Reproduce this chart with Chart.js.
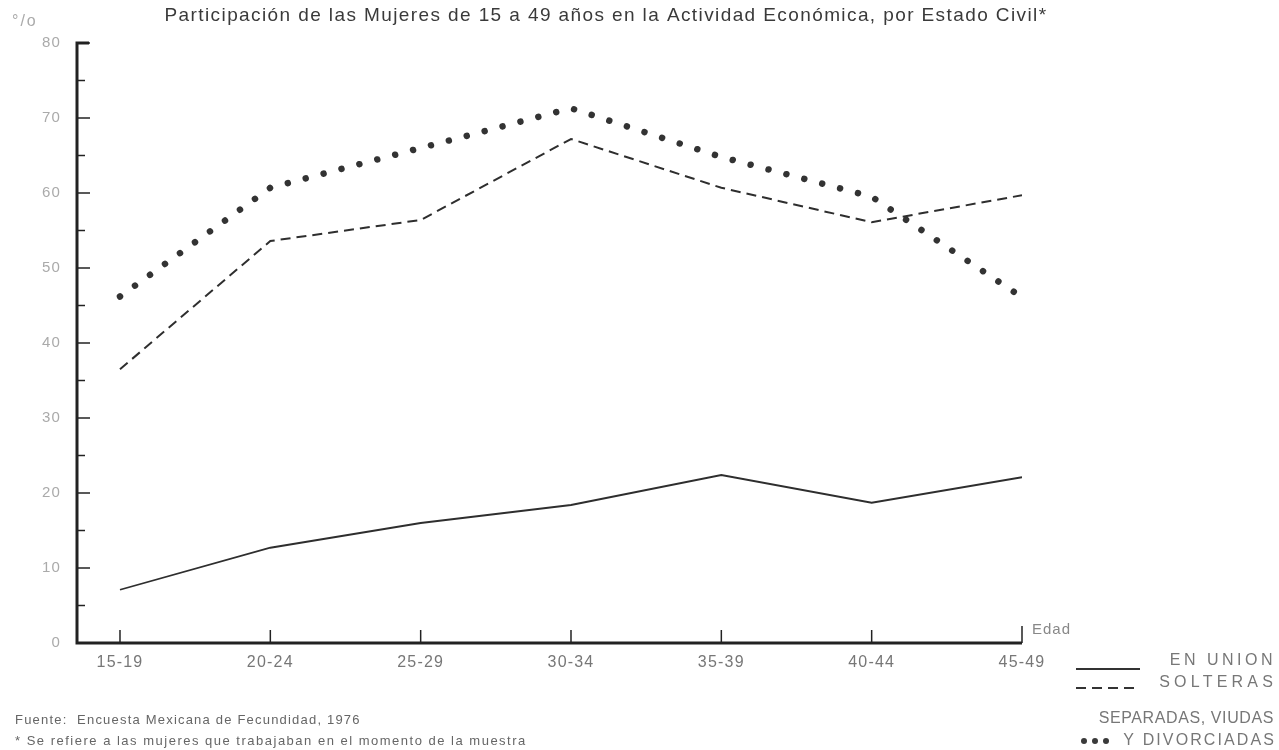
<!DOCTYPE html>
<html><head><meta charset="utf-8">
<script src="https://cdn.jsdelivr.net/npm/chart.js@4.4.1/dist/chart.umd.min.js"></script>
<style>html,body{margin:0;padding:0;background:#fff;} #wrap{position:relative;width:1279px;height:750px;}</style>
</head><body><div id="wrap"><canvas id="c" width="1279" height="750"></canvas></div>
<script>
const categories = ['15-19','20-24','25-29','30-34','35-39','40-44','45-49'];
const enUnion   = [7.1, 12.7, 16.0, 18.4, 22.4, 18.7, 22.1];
const solteras  = [36.5, 53.6, 56.4, 67.2, 60.7, 56.1, 59.7];
const separadas = [46.2, 60.7, 66.0, 71.3, 64.8, 59.5, 46.1];
const yTicks = [0, 10, 20, 30, 40, 50, 60, 70, 80];
const titleText = 'Participación de las Mujeres de 15 a 49 años en la Actividad Económica, por Estado Civil*';
const unitText = '°/o';
const axisText = 'Edad';
const legendLabels = ['EN UNION', 'SOLTERAS', 'SEPARADAS, VIUDAS', 'Y DIVORCIADAS'];
const notes = ['Fuente:  Encuesta Mexicana de Fecundidad, 1976', '* Se refiere a las mujeres que trabajaban en el momento de la muestra'];

const FONT = '"Liberation Sans", Arial, sans-serif';
const toXY = arr => arr.map((v, i) => ({x: i, y: v}));

const decor = {
  id: 'decor',
  beforeDraw(chart) {
    chart.ctx.letterSpacing = '1.2px';
  },
  afterDraw(chart) {
    const ctx = chart.ctx, xs = chart.scales.x, ys = chart.scales.y;
    const L = xs.left, R = xs.right, T = ys.top, B = ys.bottom;
    ctx.save();
    // axes
    ctx.strokeStyle = '#222';
    ctx.lineWidth = 3;
    ctx.beginPath();
    ctx.moveTo(L + 12, T); ctx.lineTo(L, T); ctx.lineTo(L, B); ctx.lineTo(R, B);
    ctx.stroke();
    // y ticks (inside)
    ctx.lineWidth = 1.5;
    for (let v = 0; v <= 80; v += 5) {
      const y = ys.getPixelForValue(v);
      const len = (v % 10 === 0) ? 13 : 8;
      ctx.beginPath(); ctx.moveTo(L, y); ctx.lineTo(L + len, y); ctx.stroke();
    }
    // x ticks (upward)
    categories.forEach((c, i) => {
      const x = xs.getPixelForValue(i);
      const len = (i === categories.length - 1) ? 17 : 13;
      ctx.beginPath(); ctx.moveTo(x, B); ctx.lineTo(x, B - len); ctx.stroke();
    });
    // title
    ctx.fillStyle = '#3a3a3a';
    ctx.font = '19px ' + FONT;
    ctx.letterSpacing = '1.4px';
    ctx.textAlign = 'center'; ctx.textBaseline = 'middle';
    ctx.fillText(titleText, 606, 16);
    // unit
    ctx.fillStyle = '#aaa';
    ctx.font = '16px ' + FONT;
    ctx.letterSpacing = '2px';
    ctx.textAlign = 'left';
    ctx.fillText(unitText, 12, 22);
    // Edad
    ctx.fillStyle = '#888';
    ctx.font = '15px ' + FONT;
    ctx.letterSpacing = '1px';
    ctx.fillText(axisText, R + 10, B - 13);
    // legend samples
    const lx0 = 1076, lx1 = 1140;
    ctx.strokeStyle = '#333';
    ctx.lineWidth = 2;
    ctx.beginPath(); ctx.moveTo(lx0, 669); ctx.lineTo(lx1, 669); ctx.stroke();
    ctx.setLineDash([10, 6]);
    ctx.beginPath(); ctx.moveTo(lx0, 688); ctx.lineTo(lx1, 688); ctx.stroke();
    ctx.setLineDash([]);
    ctx.fillStyle = '#3a3a3a';
    [1084, 1095, 1106].forEach(x => { ctx.beginPath(); ctx.arc(x, 741, 3, 0, Math.PI * 2); ctx.fill(); });
    // legend text
    ctx.fillStyle = '#777';
    ctx.font = '16px ' + FONT;
    ctx.textAlign = 'right';
    ctx.letterSpacing = '3.5px';
    ctx.fillText(legendLabels[0], 1276, 661);
    ctx.letterSpacing = '4.2px';
    ctx.fillText(legendLabels[1], 1277, 683);
    ctx.letterSpacing = '0.6px';
    ctx.fillText(legendLabels[2], 1274, 719);
    ctx.letterSpacing = '2.1px';
    ctx.fillText(legendLabels[3], 1276, 741);
    // notes
    ctx.fillStyle = '#666';
    ctx.font = '13px ' + FONT;
    ctx.letterSpacing = '1.2px';
    ctx.textAlign = 'left';
    ctx.fillText(notes[0], 15, 720);
    ctx.letterSpacing = '1.5px';
    ctx.fillText(notes[1], 15, 741);
    ctx.restore();
  }
};

new Chart(document.getElementById('c'), {
  type: 'line',
  data: {
    datasets: [
      { label: legendLabels[0], data: toXY(enUnion), borderColor: '#2e2e2e', borderWidth: 1.8, pointRadius: 0, tension: 0 },
      { label: legendLabels[1], data: toXY(solteras), borderColor: '#2e2e2e', borderWidth: 2, borderDash: [10, 6], pointRadius: 0, tension: 0 },
      { label: legendLabels[2] + ' ' + legendLabels[3], data: toXY(separadas), borderColor: '#333', borderWidth: 6.5,
        borderDash: [0.01, 18.5], borderCapStyle: 'round', pointRadius: 0, tension: 0 }
    ]
  },
  options: {
    responsive: false, animation: false, devicePixelRatio: 1,
    layout: { padding: { top: 43, right: 257, bottom: 0, left: 0 } },
    plugins: { legend: { display: false }, title: { display: false }, tooltip: { enabled: false } },
    scales: {
      x: {
        type: 'linear', min: -0.286, max: 6,
        afterBuildTicks: s => { s.ticks = categories.map((c, i) => ({ value: i })); },
        afterFit: s => { s.height = 107; },
        grid: { display: false, drawTicks: false, tickLength: 0 },
        border: { display: false },
        ticks: { callback: v => categories[v], color: '#777', font: { size: 16, family: FONT }, padding: 10, maxRotation: 0, autoSkip: false }
      },
      y: {
        min: 0, max: 80,
        afterBuildTicks: s => { s.ticks = yTicks.map(v => ({ value: v })); },
        afterFit: s => { s.width = 77; },
        grid: { display: false, drawTicks: false, tickLength: 0 },
        border: { display: false },
        ticks: { color: '#aaa', font: { size: 15, family: FONT }, padding: 16 }
      }
    }
  },
  plugins: [decor]
});
</script></body></html>
